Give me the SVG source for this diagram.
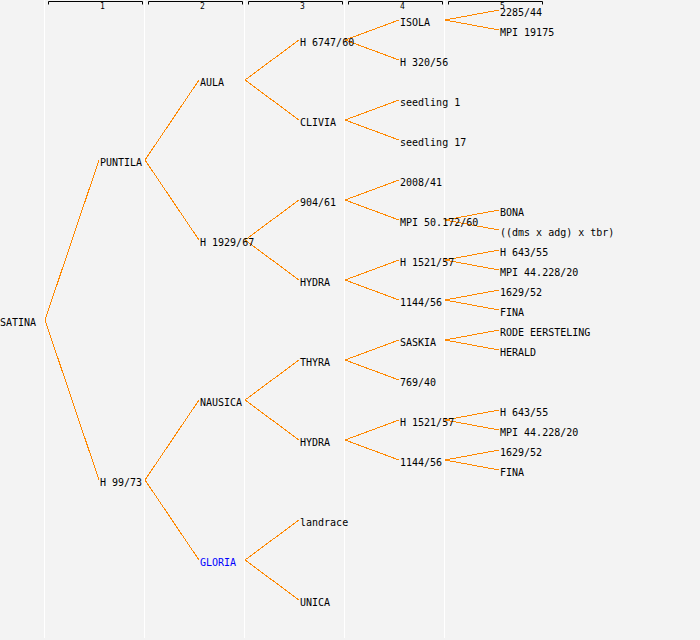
<svg xmlns="http://www.w3.org/2000/svg" width="700" height="640" viewBox="0 0 700 640">
<style>
.bg{fill:#f3f3f3}
.col{stroke:#ffffff;stroke-width:1}
.br{fill:none;stroke:#000;stroke-width:1}
.hn{font-family:"DejaVu Sans Mono","Liberation Mono",monospace;font-size:8px;fill:#000}
text.t{font-family:"DejaVu Sans Mono","Liberation Mono",monospace;font-size:10px;fill:#000}
text.blue{fill:#0000ff}
#connectors path{fill:none;stroke:#ff8800;stroke-width:1;shape-rendering:crispEdges}
</style>
<rect class="bg" x="0" y="0" width="700" height="640"/>
<g id="columns">
<line class="col" x1="44.5" y1="0" x2="44.5" y2="638"/>
<line class="col" x1="144.5" y1="0" x2="144.5" y2="638"/>
<line class="col" x1="244.5" y1="0" x2="244.5" y2="638"/>
<line class="col" x1="344.5" y1="0" x2="344.5" y2="638"/>
<line class="col" x1="444.5" y1="0" x2="444.5" y2="638"/>
</g>
<g id="header">
<path class="br" d="M48.5,4.5V1.5H142.5V4.5"/>
<path class="br" d="M148.5,4.5V1.5H242.5V4.5"/>
<path class="br" d="M248.5,4.5V1.5H342.5V4.5"/>
<path class="br" d="M348.5,4.5V1.5H442.5V4.5"/>
<path class="br" d="M448.5,4.5V1.5H542.5V4.5"/>
<text class="hn" x="100" y="9">1</text>
<text class="hn" x="200" y="9">2</text>
<text class="hn" x="300" y="9">3</text>
<text class="hn" x="400" y="9">4</text>
<text class="hn" x="500" y="9">5</text>
</g>
<g id="connectors">
<path d="M45,320L99,160M45,320L99,480"/>
<path d="M145,160L199,80M145,160L199,240M145,480L199,400M145,480L199,560"/>
<path d="M245,80L299,40M245,80L299,120M245,240L299,200M245,240L299,280M245,400L299,360M245,400L299,440M245,560L299,520M245,560L299,600"/>
<path d="M345,40L399,20M345,40L399,60M345,120L399,100M345,120L399,140M345,200L399,180M345,200L399,220M345,280L399,260M345,280L399,300M345,360L399,340M345,360L399,380M345,440L399,420M345,440L399,460"/>
<path d="M445,20L499,10M445,20L499,30M445,220L499,210M445,220L499,230M445,260L499,250M445,260L499,270M445,300L499,290M445,300L499,310M445,340L499,330M445,340L499,350M445,420L499,410M445,420L499,430M445,460L499,450M445,460L499,470"/>
</g>
<g id="n-satina"><text class="t" x="0" y="326">SATINA</text></g>
<g id="n-puntila"><text class="t" x="100" y="166">PUNTILA</text></g>
<g id="n-h9973"><text class="t" x="100" y="486">H 99/73</text></g>
<g id="n-aula"><text class="t" x="200" y="86">AULA</text></g>
<g id="n-h192967"><text class="t" x="200" y="246">H 1929/67</text></g>
<g id="n-nausica"><text class="t" x="200" y="406">NAUSICA</text></g>
<g id="n-gloria"><text class="t blue" x="200" y="566">GLORIA</text></g>
<g id="n-h674760"><text class="t" x="300" y="46">H 6747/60</text></g>
<g id="n-clivia"><text class="t" x="300" y="126">CLIVIA</text></g>
<g id="n-90461"><text class="t" x="300" y="206">904/61</text></g>
<g id="n-hydra1"><text class="t" x="300" y="286">HYDRA</text></g>
<g id="n-thyra"><text class="t" x="300" y="366">THYRA</text></g>
<g id="n-hydra2"><text class="t" x="300" y="446">HYDRA</text></g>
<g id="n-landrace"><text class="t" x="300" y="526">landrace</text></g>
<g id="n-unica"><text class="t" x="300" y="606">UNICA</text></g>
<g id="n-isola"><text class="t" x="400" y="26">ISOLA</text></g>
<g id="n-h32056"><text class="t" x="400" y="66">H 320/56</text></g>
<g id="n-seedling1"><text class="t" x="400" y="106">seedling 1</text></g>
<g id="n-seedling17"><text class="t" x="400" y="146">seedling 17</text></g>
<g id="n-200841"><text class="t" x="400" y="186">2008/41</text></g>
<g id="n-mpi5017260"><text class="t" x="400" y="226">MPI 50.172/60</text></g>
<g id="n-h152157a"><text class="t" x="400" y="266">H 1521/57</text></g>
<g id="n-114456a"><text class="t" x="400" y="306">1144/56</text></g>
<g id="n-saskia"><text class="t" x="400" y="346">SASKIA</text></g>
<g id="n-76940"><text class="t" x="400" y="386">769/40</text></g>
<g id="n-h152157b"><text class="t" x="400" y="426">H 1521/57</text></g>
<g id="n-114456b"><text class="t" x="400" y="466">1144/56</text></g>
<g id="n-228544"><text class="t" x="500" y="16">2285/44</text></g>
<g id="n-mpi19175"><text class="t" x="500" y="36">MPI 19175</text></g>
<g id="n-bona"><text class="t" x="500" y="216">BONA</text></g>
<g id="n-dms"><text class="t" x="500" y="236">((dms x adg) x tbr)</text></g>
<g id="n-h64355a"><text class="t" x="500" y="256">H 643/55</text></g>
<g id="n-mpi44228a"><text class="t" x="500" y="276">MPI 44.228/20</text></g>
<g id="n-162952a"><text class="t" x="500" y="296">1629/52</text></g>
<g id="n-finaa"><text class="t" x="500" y="316">FINA</text></g>
<g id="n-rode"><text class="t" x="500" y="336">RODE EERSTELING</text></g>
<g id="n-herald"><text class="t" x="500" y="356">HERALD</text></g>
<g id="n-h64355b"><text class="t" x="500" y="416">H 643/55</text></g>
<g id="n-mpi44228b"><text class="t" x="500" y="436">MPI 44.228/20</text></g>
<g id="n-162952b"><text class="t" x="500" y="456">1629/52</text></g>
<g id="n-finab"><text class="t" x="500" y="476">FINA</text></g>
</svg>
